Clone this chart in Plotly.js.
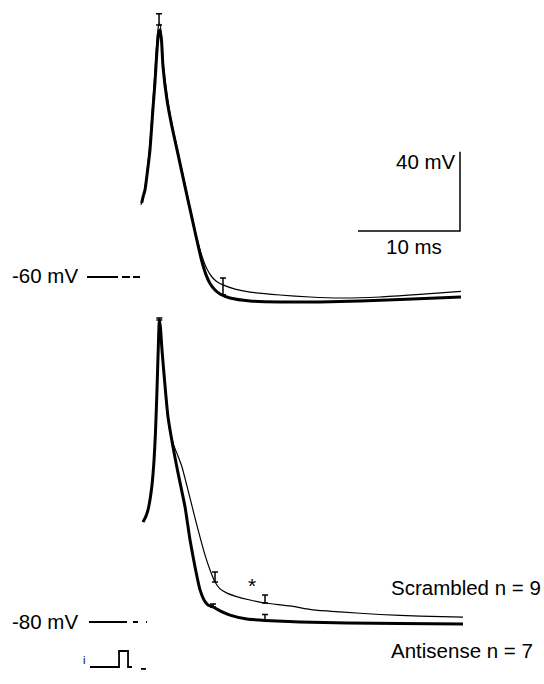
<!DOCTYPE html>
<html>
<head>
<meta charset="utf-8">
<script src="https://cdn.plot.ly/plotly-3.0.1.min.js"></script>
<style>html,body{margin:0;padding:0;background:#fff;}#chart{width:544px;height:684px;}</style>
</head>
<body>
<div id="chart"></div>
<script>
// ---------- DATA (time in ms, membrane potential in mV) ----------
// Upper panel: holding potential -60 mV
const topScrambledT = [-0.1,0.1,0.29,0.49,0.78,1.08,1.27,1.47,1.62,1.76,1.91,2.06,2.45,2.94,3.43,3.92,4.41,4.90,5.39,5.88,6.37,6.86,7.35,7.94,9.12,10.59,13.53,16.47,19.41,23.33,27.25,31.27];
const topScrambledV = [-23.6,-19.6,-15.1,-7.0,7.7,29.4,43.5,59.7,66.8,67.8,61.7,49.6,31.9,17.3,5.6,-6.1,-17.7,-29.3,-40.4,-49.5,-56.0,-60.0,-62.4,-64.0,-66.1,-67.6,-69.1,-70.1,-70.6,-70.1,-68.8,-67.3];
const topAntisenseT = [-0.03,0.10,0.29,0.49,0.78,1.08,1.27,1.47,1.62,1.76,1.91,2.06,2.45,2.94,3.43,3.92,4.41,4.90,5.39,5.88,6.27,6.67,7.16,7.65,8.63,10.59,13.53,17.45,21.37,25.29,31.27];
const topAntisenseV = [-22.6,-19.6,-16.1,-8.5,4.1,25.4,38.0,54.6,63.2,64.7,59.7,46.1,29.4,15.8,4.3,-7.3,-18.9,-30.3,-41.7,-52.4,-58.8,-63.3,-66.6,-68.6,-70.6,-72.1,-72.6,-72.6,-72.1,-71.4,-70.1];
// error bars (upper panel) on scrambled trace
const topErrT = [1.67, 7.94];
const topErrV = [67.3, -64.0];
const topErrPlus = [5.6, 3.5];
const topErrMinus = [0, 5.0];

// Lower panel: holding potential -80 mV
const botAntisenseT = [0.10,0.39,0.59,0.78,0.98,1.18,1.32,1.47,1.62,1.70,1.81,1.96,2.25,2.55,3.04,3.53,4.22,4.71,5.20,5.69,6.08,6.47,6.96,7.65,8.63,10.29,12.06,15.49,20.10,25.29,31.47];
const botAntisenseV = [-29.5,-26.5,-23.4,-18.4,-10.8,1.8,15.5,37.2,62.4,72.5,68.5,57.4,39.7,23.5,8.4,-4.7,-21.9,-38.6,-52.2,-63.8,-68.9,-71.4,-72.4,-74.4,-76.5,-78.5,-79.2,-80.0,-80.5,-80.8,-81.0];
const botScrambledT = [0.10,0.39,0.59,0.78,0.98,1.18,1.32,1.47,1.62,1.70,1.81,1.96,2.25,2.55,2.75,3.14,3.53,3.92,4.31,4.71,5.20,5.69,6.18,6.67,7.16,7.65,8.33,9.12,10.59,12.06,14.51,16.76,19.41,23.33,27.25,31.47];
const botScrambledV = [-29.5,-26.5,-23.4,-18.4,-10.8,1.8,15.5,37.2,62.4,72.5,68.5,57.4,39.7,23.5,16.0,8.9,3.8,-1.7,-9.3,-17.4,-27.5,-37.1,-46.2,-53.7,-59.8,-63.3,-65.4,-66.9,-68.9,-70.4,-71.9,-73.9,-74.9,-76.2,-77.0,-77.5];
// error bars (lower panel)
const botErrScrT = [1.70, 7.16, 12.06];
const botErrScrV = [72.5, -59.8, -70.4];
const botErrScrPlus = [1.0, 5.0, 4.0];
const botErrAntT = [6.96, 12.06];
const botErrAntV = [-72.4, -79.2];
const botErrAntPlus = [1.5, 3.0];

// holding-potential reference marks
const holdTop = -60;
const holdBot = -80;
const holdMarkT = [-5.39,-2.35,null,-1.96,-1.18,null,-0.88,-0.20];
const holdMarkBotT = [-5.20,-2.16,-1.47,null,-0.88,-0.39,null,0.39,0.49];

// stimulus current (arbitrary units)
const stimT = [-5.10,-2.25,-2.25,-1.37,-1.37,-0.98,null,-0.10,0.39];
const stimI = [0,0,1,1,0,0,null,-0.12,-0.12];

// scale bars
const scaleMs = 10;
const scaleMv = 40;

// labels
const labelTop = '-60 mV';
const labelBot = '-80 mV';
const labelScr = 'Scrambled n = 9';
const labelAnti = 'Antisense n = 7';

// ---------- FIGURE ----------
const W = 544, H = 684;
const pxPerMs = 10.2, pxPerMv = 1.98, t0px = 142;
const xr = [-t0px/pxPerMs, (W-t0px)/pxPerMs];
const topBasePx = 277, botBasePx = 622;
const y1r = [holdTop-(H-topBasePx)/pxPerMv, holdTop+topBasePx/pxPerMv];
const y2r = [holdBot-(H-botBasePx)/pxPerMv, holdBot+botBasePx/pxPerMv];
const stimBasePx = 667, stimPxPerUnit = 16;
const y3r = [-(H-stimBasePx)/stimPxPerUnit, stimBasePx/stimPxPerUnit];

const blk = 'black';
const traces = [];
function line(x, y, ya, w){ traces.push({x:x, y:y, yaxis:ya, type:'scatter', mode:'lines', line:{color:blk, width:w, shape:'spline', smoothing:0.5}, hoverinfo:'skip'}); }
function seg(x, y, ya, w){ traces.push({x:x, y:y, yaxis:ya, type:'scatter', mode:'lines', line:{color:blk, width:w}, hoverinfo:'skip', connectgaps:false}); }
function err(x, y, plus, minus, ya){
  traces.push({x:x, y:y, yaxis:ya, type:'scatter', mode:'markers', marker:{size:1, color:blk},
    error_y:{type:'data', symmetric:false, array:plus, arrayminus:minus, color:blk, thickness:1.5, width:3}, hoverinfo:'skip'});
}

// upper panel
line(topAntisenseT, topAntisenseV, 'y', 3);
line(topScrambledT, topScrambledV, 'y', 1.2);
err(topErrT, topErrV, topErrPlus, topErrMinus, 'y');
seg(holdMarkT, holdMarkT.map(v => v===null?null:holdTop), 'y', 2);

// scale bars (upper right)
const sbRight = (460 - t0px)/pxPerMs;
const sbBottom = holdTop + (topBasePx-231)/pxPerMv;
seg([sbRight-scaleMs, sbRight, sbRight], [sbBottom, sbBottom, sbBottom+scaleMv], 'y', 1.5);

// lower panel
line(botAntisenseT, botAntisenseV, 'y2', 3);
line(botScrambledT, botScrambledV, 'y2', 1.2);
err(botErrScrT, botErrScrV, botErrScrPlus, botErrScrPlus.map(()=>0), 'y2');
err(botErrAntT, botErrAntV, botErrAntPlus, botErrAntPlus.map(()=>0), 'y2');
seg(holdMarkBotT, holdMarkBotT.map(v => v===null?null:holdBot), 'y2', 2);

// stimulus
seg(stimT, stimI, 'y3', 1.8);

const font = {family:'"Liberation Sans", Arial, sans-serif', size:20.5, color:blk};
function ann(text, px, py, xa, size){
  return {text:text, x:px/W, y:1-py/H, xref:'paper', yref:'paper', xanchor:xa, yanchor:'middle', showarrow:false,
    font:Object.assign({}, font, size?{size:size}:{})};
}
const layout = {
  width:W, height:H, margin:{l:0,r:0,t:0,b:0}, paper_bgcolor:'white', plot_bgcolor:'white', showlegend:false,
  xaxis:{range:xr, visible:false, fixedrange:true},
  yaxis:{range:y1r, visible:false, fixedrange:true},
  yaxis2:{range:y2r, visible:false, overlaying:'y', fixedrange:true},
  yaxis3:{range:y3r, visible:false, overlaying:'y', fixedrange:true},
  annotations:[
    ann(labelTop, 10, 276, 'left'),
    ann(labelBot, 10, 621, 'left'),
    ann('40 mV', 458, 162, 'right'),
    ann('10 ms', 414, 246, 'center'),
    ann(labelScr, 389, 587, 'left'),
    ann(labelAnti, 389, 650, 'left'),
    ann('*', 252, 585, 'center', 21),
    ann('i', 84, 660, 'center', 11)
  ]
};
Plotly.newPlot('chart', traces, layout, {displayModeBar:false, staticPlot:true});
</script>
</body>
</html>
